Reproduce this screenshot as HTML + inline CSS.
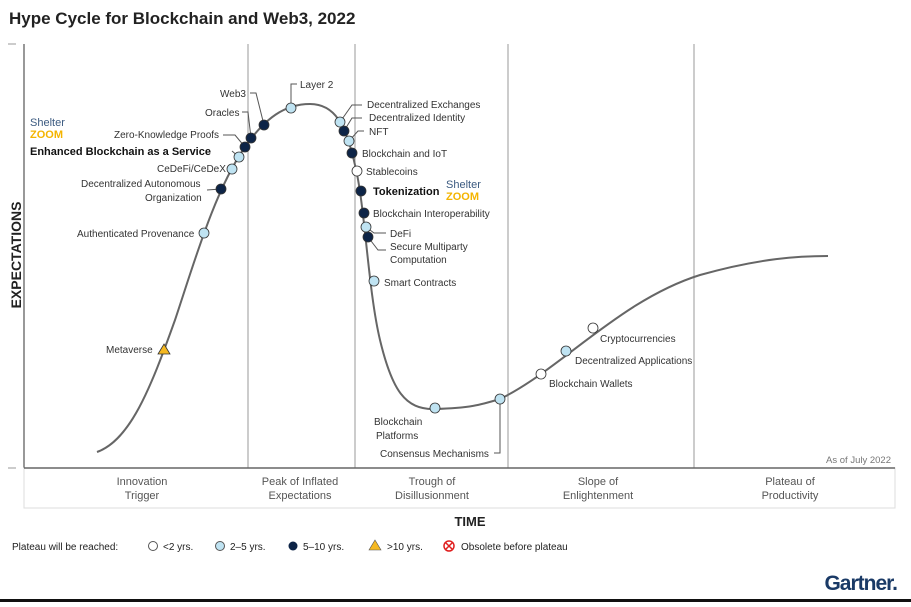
<!DOCTYPE html>
<html><head><meta charset="utf-8"><style>
body{margin:0;background:#fff;width:911px;height:602px;overflow:hidden;font-family:"Liberation Sans",sans-serif}
</style></head><body>
<svg width="911" height="602" viewBox="0 0 911 602" xmlns="http://www.w3.org/2000/svg" font-family="Liberation Sans, sans-serif">
<text x="9" y="24" font-size="17" font-weight="bold" fill="#222">Hype Cycle for Blockchain and Web3, 2022</text>
<line x1="24" y1="44" x2="24" y2="468" stroke="#555" stroke-width="1.2"/>
<line x1="8" y1="44" x2="16" y2="44" stroke="#999"/>
<line x1="8" y1="468" x2="16" y2="468" stroke="#999"/>
<g stroke="#999" stroke-width="1">
<line x1="248" y1="44" x2="248" y2="474"/><line x1="355" y1="44" x2="355" y2="474"/>
<line x1="508" y1="44" x2="508" y2="474"/><line x1="694" y1="44" x2="694" y2="474"/>
</g>
<rect x="24" y="468" width="871" height="40" fill="#fff" stroke="#ddd"/>
<line x1="24" y1="468" x2="895" y2="468" stroke="#666" stroke-width="1.5"/>
<g font-size="11" fill="#555" text-anchor="middle">
<text x="142" y="485">Innovation</text><text x="142" y="499">Trigger</text>
<text x="300" y="485">Peak of Inflated</text><text x="300" y="499">Expectations</text>
<text x="432" y="485">Trough of</text><text x="432" y="499">Disillusionment</text>
<text x="598" y="485">Slope of</text><text x="598" y="499">Enlightenment</text>
<text x="790" y="485">Plateau of</text><text x="790" y="499">Productivity</text>
</g>
<text x="891" y="463" font-size="9.5" fill="#777" text-anchor="end">As of July 2022</text>
<text x="470" y="526" font-size="13" font-weight="bold" fill="#222" text-anchor="middle">TIME</text>
<text transform="translate(21,255) rotate(-90)" font-size="14" font-weight="bold" fill="#222" text-anchor="middle">EXPECTATIONS</text>
<path d="M97,452 C130,440 150,390 175,320 C195,260 215,190 245,147 C265,118 285,104 310,104 C335,104 346,125 355,165 C365,205 368,290 380,340 C392,390 405,410 435,409 C470,408 480,405 500,399 C560,370 620,300 700,275 C760,258 800,256 828,256" fill="none" stroke="#666" stroke-width="2"/>
<g stroke="#555" fill="none" stroke-width="1">
<path d="M291,108 L291,84 L297,84"/><path d="M264,125 L256,93 L250,93"/><path d="M251,138 L248,112 L242,112"/>
<path d="M245,147 L235,135 L223,135"/><path d="M239,157 L232,151"/>
<path d="M340,122 L352,105 L362,105"/><path d="M344,131 L352,118 L362,118"/><path d="M349,141 L358,131 L364,131"/>
<path d="M366,227 L374,233 L386,233"/><path d="M368,237 L378,250 L386,250"/>
<path d="M500,399 L500,453 L494,453"/><path d="M221,189 L207,190"/>
</g>
<g stroke="#333" stroke-width="0.8">
<circle cx="204" cy="233" r="5" fill="#bfe3f2"/><circle cx="221" cy="189" r="5" fill="#0d2447"/>
<circle cx="232" cy="169" r="5" fill="#bfe3f2"/><circle cx="239" cy="157" r="5" fill="#bfe3f2"/>
<circle cx="245" cy="147" r="5" fill="#0d2447"/><circle cx="251" cy="138" r="5" fill="#0d2447"/>
<circle cx="264" cy="125" r="5" fill="#0d2447"/><circle cx="291" cy="108" r="5" fill="#bfe3f2"/>
<circle cx="340" cy="122" r="5" fill="#bfe3f2"/><circle cx="344" cy="131" r="5" fill="#0d2447"/>
<circle cx="349" cy="141" r="5" fill="#bfe3f2"/><circle cx="352" cy="153" r="5" fill="#0d2447"/>
<circle cx="357" cy="171" r="5" fill="#fff"/><circle cx="361" cy="191" r="5" fill="#0d2447"/>
<circle cx="364" cy="213" r="5" fill="#0d2447"/><circle cx="366" cy="227" r="5" fill="#bfe3f2"/>
<circle cx="368" cy="237" r="5" fill="#0d2447"/><circle cx="374" cy="281" r="5" fill="#bfe3f2"/>
<circle cx="435" cy="408" r="5" fill="#bfe3f2"/><circle cx="500" cy="399" r="5" fill="#bfe3f2"/>
<circle cx="541" cy="374" r="5" fill="#fff"/><circle cx="566" cy="351" r="5" fill="#bfe3f2"/>
<circle cx="593" cy="328" r="5" fill="#fff"/>
<polygon points="164,344 170,354 158,354" fill="#f5b820"/>
</g>
<g font-size="10" fill="#333">
<text x="106" y="353">Metaverse</text>
<text x="77" y="237">Authenticated Provenance</text>
<text x="81" y="187">Decentralized Autonomous</text><text x="145" y="201">Organization</text>
<text x="157" y="172">CeDeFi/CeDeX</text>
<text x="114" y="138">Zero-Knowledge Proofs</text>
<text x="205" y="116">Oracles</text><text x="220" y="97">Web3</text>
<text x="300" y="88">Layer 2</text>
<text x="367" y="108">Decentralized Exchanges</text><text x="369" y="121">Decentralized Identity</text>
<text x="369" y="135">NFT</text><text x="362" y="157">Blockchain and IoT</text>
<text x="366" y="175">Stablecoins</text>
<text x="373" y="217">Blockchain Interoperability</text>
<text x="390" y="237">DeFi</text><text x="390" y="250">Secure Multiparty</text><text x="390" y="263">Computation</text>
<text x="384" y="286">Smart Contracts</text>
<text x="374" y="425">Blockchain</text><text x="376" y="439">Platforms</text>
<text x="380" y="457">Consensus Mechanisms</text>
<text x="549" y="387">Blockchain Wallets</text>
<text x="575" y="364">Decentralized Applications</text>
<text x="600" y="342">Cryptocurrencies</text>
</g>
<text x="30" y="155" font-size="11" font-weight="bold" fill="#111">Enhanced Blockchain as a Service</text>
<text x="373" y="195" font-size="11" font-weight="bold" fill="#111">Tokenization</text>
<text x="30" y="126" font-size="11" fill="#3b5a80">Shelter</text><text x="30" y="138" font-size="11" font-weight="bold" fill="#f4b400">ZOOM</text>
<text x="446" y="188" font-size="11" fill="#3b5a80">Shelter</text><text x="446" y="200" font-size="11" font-weight="bold" fill="#f4b400">ZOOM</text>
<g font-size="10" fill="#222">
<text x="12" y="550">Plateau will be reached:</text>
<circle cx="153" cy="546" r="4.5" fill="#fff" stroke="#555"/><text x="163" y="550">&lt;2 yrs.</text>
<circle cx="220" cy="546" r="4.5" fill="#bfe3f2" stroke="#555"/><text x="230" y="550">2–5 yrs.</text>
<circle cx="293" cy="546" r="4.5" fill="#0d2447"/><text x="303" y="550">5–10 yrs.</text>
<polygon points="375,540 381,550 369,550" fill="#f5b820" stroke="#555" stroke-width="0.6"/><text x="387" y="550">&gt;10 yrs.</text>
<circle cx="449" cy="546" r="5" fill="#fff" stroke="#e02020" stroke-width="1.5"/>
<path d="M446,543 L452,549 M452,543 L446,549" stroke="#e02020" stroke-width="1.5"/>
<text x="461" y="550">Obsolete before plateau</text>
</g>
<text x="897" y="590" font-size="21" font-weight="bold" fill="#1a3a66" text-anchor="end" letter-spacing="-1">Gartner.</text>
<rect x="0" y="599" width="911" height="3" fill="#111"/>
</svg>
</body></html>
